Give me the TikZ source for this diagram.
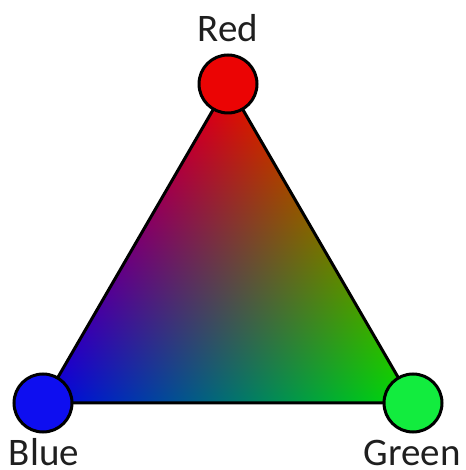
\documentclass[tikz,border=0pt]{standalone}
\usepackage{fontspec}
\setmainfont{Carlito}
\pgfdeclarefunctionalshading{rgbtri}{\pgfpoint{0bp}{0bp}}{\pgfpoint{100bp}{100bp}}{}{
 exch 2 mul 1 index sub 25 sub 100 div
 exch 25 sub 50 div
 2 copy add 1 exch sub
 0.9 mul 3 1 roll
 0.93 mul exch 0.88 mul 3 -1 roll
}
\definecolor{cred}{RGB}{235,4,4}
\definecolor{cblue}{RGB}{14,14,240}
\definecolor{cgreen}{RGB}{18,236,62}
\tikzset{
  vtx/.style={circle, draw=black, line width=3pt, minimum size=58pt, inner sep=0pt},
  lbl/.style={anchor=base, inner sep=0pt, font=\fontsize{39}{47}\selectfont, text=black!88},
  edge/.style={draw=black, line width=3pt, line join=round}
}
\begin{document}
\begin{tikzpicture}[x=1pt,y=1pt]
\useasboundingbox (0,0) rectangle (465,470);
\coordinate (R) at (228,386);
\coordinate (B) at (43,67);
\coordinate (G) at (413,67);
\shade[shading=rgbtri] (R) -- (B) -- (G) -- cycle;
\draw[edge] (R) -- (B) -- (G) -- cycle;
\node[vtx, fill=cred] (nR) at (R) {};
\node[vtx, fill=cblue] (nB) at (B) {};
\node[vtx, fill=cgreen] (nG) at (G) {};
\node[lbl] (tR) at (228,428) {Red};
\node[lbl] (tB) at (44,5) {Blue};
\node[lbl] (tG) at (412,5) {Green};
\end{tikzpicture}
\end{document}
